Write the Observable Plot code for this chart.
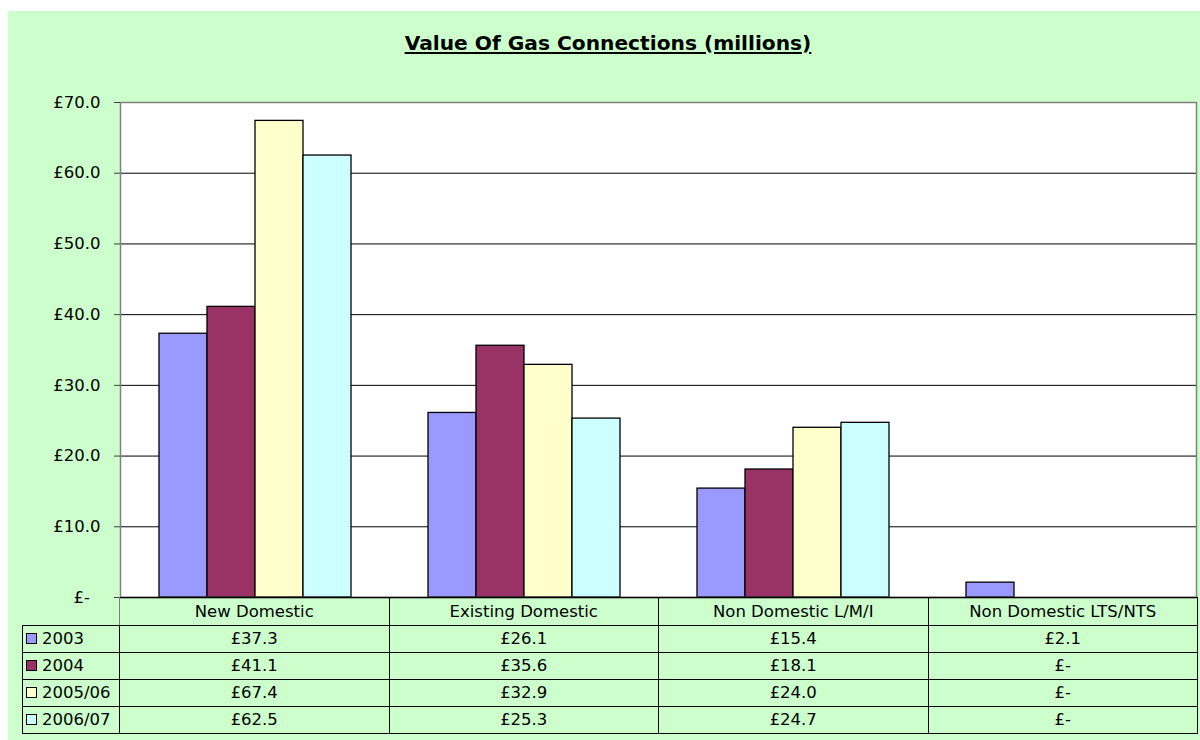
<!DOCTYPE html>
<html><head><meta charset="utf-8">
<script src="https://cdn.jsdelivr.net/npm/d3@7"></script>
<script src="https://cdn.jsdelivr.net/npm/@observablehq/plot@0.6"></script>
<style>
html,body{margin:0;padding:0;width:1200px;height:740px;overflow:hidden;background:#fff;font-family:"DejaVu Sans",Verdana,sans-serif;}
#bg{position:absolute;left:8px;top:11px;width:1192px;height:729px;background:#CCFFCC;}
#chart{position:absolute;left:0;top:0;}
#title{position:absolute;top:33px;left:12px;width:1192px;text-align:center;font-weight:bold;font-size:20.2px;line-height:20px;text-decoration:underline;color:#000;}
#tbl{position:absolute;left:22px;top:597px;border-collapse:collapse;table-layout:fixed;font-size:16.5px;color:#000;width:1175px;}
#tbl td{border:1px solid #000;padding:0;text-align:center;background:transparent;white-space:nowrap;line-height:18px;}
#tbl tr.head td{height:27px;}
#tbl tr.data td{height:26px;}
#tbl td.blank{border-top:none;border-left:none;border-right:1px solid #808080;}
#tbl td.leg{text-align:left;padding-left:3px;}
.sw{display:inline-block;width:9px;height:9px;border:1px solid #000;margin-right:5px;vertical-align:0px;}
</style>
</head><body>
<div id="bg"></div>
<div id="chart"></div>
<div id="title">Value Of Gas Connections (millions)</div>
<table id="tbl"></table>
<script>
const categories = ["New Domestic","Existing Domestic","Non Domestic L/M/I","Non Domestic LTS/NTS"];
const seriesNames = ["2003","2004","2005/06","2006/07"];
const v2003 = [37.3, 26.1, 15.4, 2.1];
const v2004 = [41.1, 35.6, 18.1, 0];
const v2005 = [67.4, 32.9, 24.0, 0];
const v2006 = [62.5, 25.3, 24.7, 0];
const seriesColors = ["#9999FF","#993366","#FFFFCC","#CCFFFF"];
const yTicks = [0,10,20,30,40,50,60,70];

const seriesValues = [v2003, v2004, v2005, v2006];
const rows = seriesNames.flatMap((s,i) => categories.map((c,j) => ({series:s, category:c, value:seriesValues[i][j]})));
const fmt = v => v === 0 ? "£-" : "£" + v.toFixed(1);
const tickFmt = v => v === 0 ? "£-\u00A0\u00A0" : "£" + v.toFixed(1);

const chart = Plot.plot({
  width:1200, height:740,
  marginLeft:119, marginRight:3, marginTop:102, marginBottom:143,
  style:{background:"transparent", fontFamily:"DejaVu Sans, Verdana, sans-serif", fontSize:"16.5px", color:"black", overflow:"visible"},
  fx:{domain:categories, padding:0, axis:null},
  x:{domain:seriesNames, paddingInner:0, paddingOuter:0.75, axis:null},
  y:{domain:[0,70]},
  color:{domain:seriesNames, range:seriesColors},
  marks:[
    Plot.frame({facet:"super", fill:"white"}),
    Plot.ruleY(yTicks.filter(t => t > 0 && t < 70), {stroke:"black", strokeWidth:1}),
    Plot.barY(rows.filter(d => d.value > 0), {fx:"category", x:"series", y:"value", fill:"series", stroke:"black", strokeWidth:1.3}),
    Plot.ruleY([0], {stroke:"black", strokeWidth:1.3}),
    Plot.frame({facet:"super", stroke:"#808080", strokeWidth:1.5}),
    Plot.axisY({ticks:yTicks, tickFormat:tickFmt, tickSize:6, tickPadding:14, stroke:"#404040", fill:"black", fontSize:16.5, label:null})
  ]
});
document.getElementById("chart").appendChild(chart);

// data table
const tbl = d3.select("#tbl");
const cg = tbl.append("colgroup");
cg.append("col").style("width","97px");
categories.forEach(() => cg.append("col").style("width","269.5px"));
const head = tbl.append("tr").attr("class","head");
head.append("td").attr("class","blank");
categories.forEach(c => head.append("td").text(c));
seriesNames.forEach((s,i) => {
  const tr = tbl.append("tr").attr("class","data");
  const lc = tr.append("td").attr("class","leg");
  lc.append("span").attr("class","sw").style("background", seriesColors[i]);
  lc.append("span").text(s);
  seriesValues[i].forEach(v => tr.append("td").text(fmt(v)));
});
</script>
</body></html>
